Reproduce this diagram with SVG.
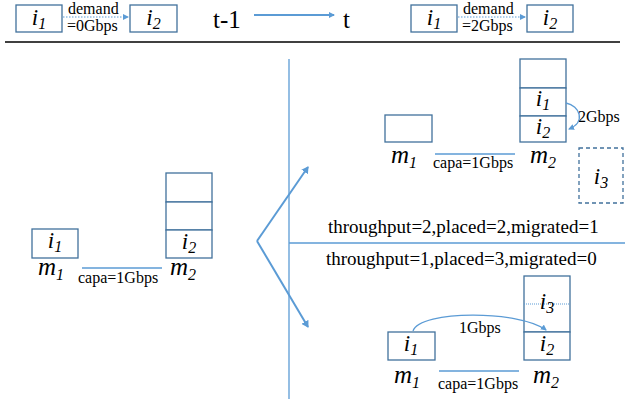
<svg xmlns="http://www.w3.org/2000/svg" width="625" height="407" viewBox="0 0 625 407">
<defs>
<style>
.box{fill:#fff;stroke:#41719C;stroke-width:1.3}
.dash{fill:#fff;stroke:#41719C;stroke-width:1.3;stroke-dasharray:4 3}
.ln{stroke:#5B9BD5;stroke-width:1.3;fill:none}
.ar{stroke:#5B9BD5;stroke-width:2;fill:none}
.dot{stroke:#5B9BD5;stroke-width:1.2;stroke-dasharray:1.5 1.5;fill:none}
.v{font-family:"Liberation Serif",serif;font-style:italic;font-size:23px;fill:#000;text-anchor:middle}
.mm{font-size:25px}
.sub{font-size:16px}
.s{font-family:"Liberation Serif",serif;font-size:16px;fill:#000}
.m{font-family:"Liberation Serif",serif;font-size:19px;fill:#000}
</style>
<marker id="ah" markerWidth="8" markerHeight="8" refX="6" refY="4" orient="auto" markerUnits="userSpaceOnUse"><path d="M0,0 L7,4 L0,8 Z" fill="#5B9BD5"/></marker>
<marker id="ahs" markerWidth="6" markerHeight="6" refX="5" refY="3" orient="auto" markerUnits="userSpaceOnUse"><path d="M0,0 L6,3 L0,6 Z" fill="#5B9BD5"/></marker>
</defs>

<!-- header -->
<g id="header">
<line x1="5" y1="42" x2="620" y2="42" stroke="#000" stroke-width="1.5"/>
<text class="s" x="213" y="28" style="font-size:25px">t-1</text>
<text class="s" x="343" y="28" style="font-size:25px">t</text>
</g>
<g id="h-left-i1"><rect class="box" x="16" y="5" width="46" height="27"/><text class="v" x="39" y="25">i<tspan class="sub" dy="4">1</tspan></text></g>
<g id="h-left-i2"><rect class="box" x="130" y="5" width="47" height="27"/><text class="v" x="153.5" y="25">i<tspan class="sub" dy="4">2</tspan></text></g>
<g id="h-right-i1"><rect class="box" x="411" y="5" width="46" height="27"/><text class="v" x="434" y="25">i<tspan class="sub" dy="4">1</tspan></text></g>
<g id="h-right-i2"><rect class="box" x="527" y="5" width="46" height="27"/><text class="v" x="550" y="25">i<tspan class="sub" dy="4">2</tspan></text></g>

<!-- left scenario -->
<g id="L-m1">
<rect class="box" x="32" y="229" width="46" height="29"/>
<text class="v" x="55" y="248">i<tspan class="sub" dy="4">1</tspan></text>
<text class="v mm" x="51" y="275">m<tspan class="sub" dy="5">1</tspan></text>
</g>
<g id="L-m2">
<rect class="box" x="166" y="173" width="46" height="29"/>
<rect class="box" x="166" y="202" width="46" height="28"/>
<rect class="box" x="166" y="230" width="46" height="28"/>
<text class="v" x="189" y="249">i<tspan class="sub" dy="4">2</tspan></text>
<text class="v mm" x="183" y="275">m<tspan class="sub" dy="5">2</tspan></text>
</g>

<!-- top right scenario -->
<g id="TR-m1">
<rect class="box" x="385" y="115" width="47" height="27"/>
<text class="v mm" x="404" y="163">m<tspan class="sub" dy="5">1</tspan></text>
</g>
<g id="TR-m2">
<rect class="box" x="520" y="59" width="46" height="29"/>
<rect class="box" x="520" y="88" width="46" height="28"/>
<rect class="box" x="520" y="116" width="46" height="26"/>
<text class="v" x="543" y="106">i<tspan class="sub" dy="4">1</tspan></text>
<text class="v" x="543" y="134">i<tspan class="sub" dy="4">2</tspan></text>
<text class="v mm" x="543" y="163">m<tspan class="sub" dy="5">2</tspan></text>
</g>
<g id="TR-i3">
<rect class="dash" x="579" y="148" width="44" height="55"/>
<text class="v" x="601" y="184">i<tspan class="sub" dy="4">3</tspan></text>
</g>

<!-- bottom right scenario -->
<g id="BR-m1">
<rect class="box" x="388" y="332" width="47" height="28"/>
<text class="v" x="411" y="351">i<tspan class="sub" dy="4">1</tspan></text>
<text class="v mm" x="407" y="383">m<tspan class="sub" dy="5">1</tspan></text>
</g>
<g id="BR-m2">
<rect class="box" x="524" y="276" width="46" height="56"/>
<rect class="box" x="524" y="332" width="46" height="28"/>
<line class="dot" x1="524" y1="304" x2="570" y2="304" style="stroke-dasharray:1 1"/>
<text class="v" x="547" y="309">i<tspan class="sub" dy="4">3</tspan></text>
<text class="v" x="547" y="351">i<tspan class="sub" dy="4">2</tspan></text>
<text class="v mm" x="546" y="383">m<tspan class="sub" dy="5">2</tspan></text>
</g>

<!-- labels -->
<g id="labels">
<text class="s" x="68" y="14">demand</text>
<text class="s" x="67" y="31">=0Gbps</text>
<text class="s" x="463" y="14">demand</text>
<text class="s" x="462" y="31">=2Gbps</text>
<text class="s" x="78" y="283">capa=1Gbps</text>
<text class="s" x="433" y="168">capa=1Gbps</text>
<text class="s" x="438" y="389">capa=1Gbps</text>
<text class="s" x="578" y="122">2Gbps</text>
<text class="s" x="459" y="333">1Gbps</text>
<text class="m" x="328" y="233">throughput=2,placed=2,migrated=1</text>
<text class="m" x="326" y="265">throughput=1,placed=3,migrated=0</text>
</g>

<!-- connectors -->
<g id="connectors">
<line class="dot" x1="63" y1="17" x2="128" y2="17" marker-end="url(#ahs)"/>
<line class="dot" x1="458" y1="17" x2="525" y2="17" marker-end="url(#ahs)"/>
<line class="ar" x1="254" y1="15" x2="334" y2="15" marker-end="url(#ahs)"/>
<line class="ln" x1="289" y1="59" x2="289" y2="399"/>
<line class="ln" x1="289" y1="243" x2="625" y2="243"/>
<line class="ar" x1="257" y1="241" x2="308" y2="167" marker-end="url(#ah)"/>
<line class="ar" x1="257" y1="241" x2="308" y2="327" marker-end="url(#ah)"/>
<line class="ln" x1="82" y1="268" x2="162" y2="268"/>
<line class="ln" x1="435" y1="154" x2="515" y2="154"/>
<line class="ln" x1="439" y1="371" x2="519" y2="371"/>
<path class="ln" d="M566,103 C580,106 586,122 569,129" marker-end="url(#ahs)"/>
<path class="ln" d="M413,331 C420,310 520,310 546,330" marker-end="url(#ahs)"/>
</g>
</svg>
